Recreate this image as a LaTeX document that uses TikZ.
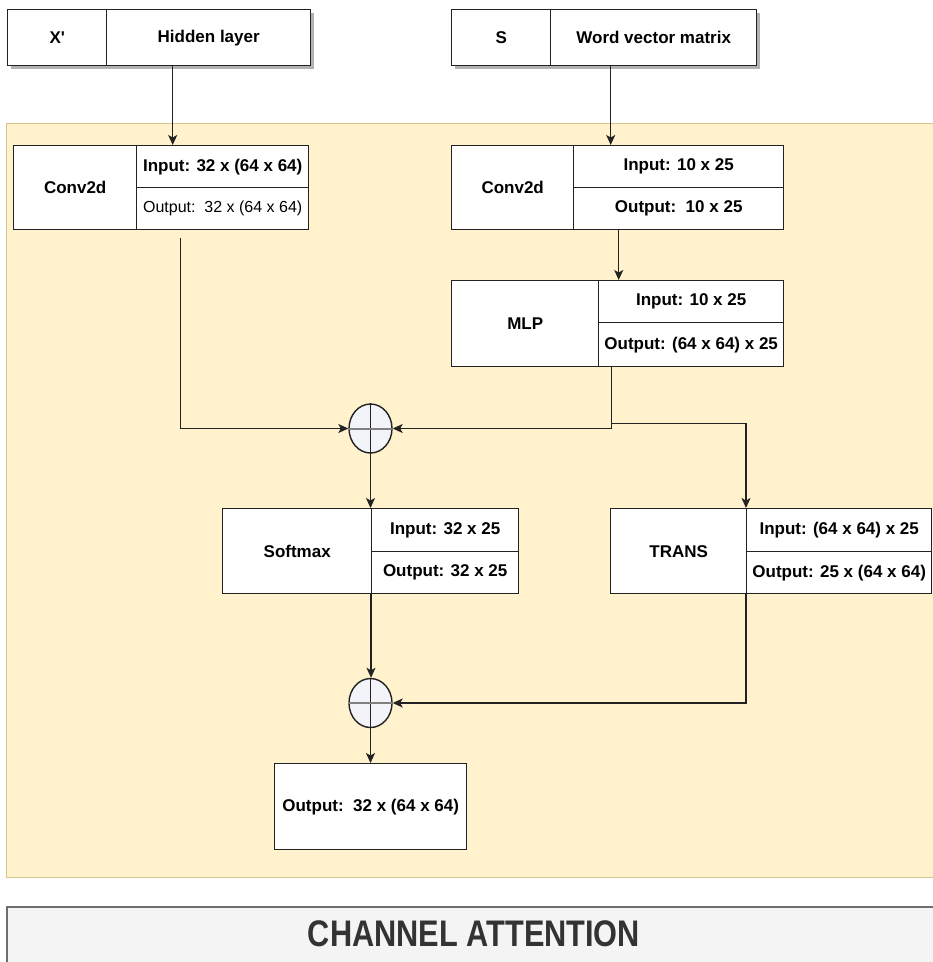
\documentclass[tikz,border=0pt]{standalone}
\usepackage{fontspec}
\setmainfont{Liberation Sans}
\usepackage{graphicx}
\usetikzlibrary{arrows.meta,shapes.geometric,shadows,calc}

\definecolor{panelfill}{HTML}{FFF2CC}
\definecolor{paneldraw}{HTML}{D6C48A}
\definecolor{bandfill}{HTML}{F4F4F4}
\definecolor{banddraw}{HTML}{6E6E6E}
\definecolor{ink}{HTML}{222222}
\definecolor{sumfill}{HTML}{F3F3FA}
\definecolor{titleink}{HTML}{333333}

\begin{document}
\begin{tikzpicture}[x=1pt,y=-1pt,
  cell/.style={draw=ink, line width=1.4pt, fill=white, inner sep=0pt,
    anchor=north west, text=black, font=\fontsize{17}{20}\selectfont\bfseries},
  thin cell/.style={cell, font=\fontsize{16}{19}\selectfont},
  topshadow/.style={drop shadow={shadow xshift=3pt, shadow yshift=-3pt,
    opacity=0.3, fill=black}},
  sum/.style={draw=ink, line width=1.4pt, fill=sumfill, ellipse, inner sep=0pt,
    minimum width=43pt, minimum height=49pt},
  arr/.style={draw=ink, line width=1.3pt,
    -{Stealth[length=10pt,width=9pt,inset=2.5pt]}}]

\useasboundingbox (0,0) rectangle (933,962);
\fill[white] (0,0) rectangle (933,962);

% background panel and caption band
\node[draw=paneldraw, fill=panelfill, line width=1.2pt, inner sep=0pt,
      anchor=north west, minimum width=940pt, minimum height=754pt] (panel) at (6,123) {};
\node[draw=banddraw, fill=bandfill, line width=1.5pt, inner sep=0pt,
      anchor=north west, minimum width=940pt, minimum height=70pt] (band) at (6,906) {};
\node[text=titleink, inner sep=0pt, font=\fontsize{37}{40}\selectfont\bfseries]
      (title) at (474,933.5) {\scalebox{0.83}[1]{CHANNEL ATTENTION}};

% inputs
\node[cell, topshadow, minimum width=99pt, minimum height=56pt] (xsym) at (7,9) {X\textquotesingle};
\node[cell, topshadow, minimum width=204pt, minimum height=56pt] (xh) at (106,9) {Hidden layer};
\node[cell, topshadow, minimum width=99pt, minimum height=56pt] (ssym) at (451,9) {S};
\node[cell, topshadow, minimum width=206pt, minimum height=56pt] (sw) at (550,9) {Word vector matrix};

% Conv2d on the hidden layer
\node[cell, minimum width=123pt, minimum height=84pt] (c1l) at (13,145) {Conv2d};
\node[cell, minimum width=172pt, minimum height=42pt] (c1in) at (136,145) {Input: 32 x (64 x 64)};
\node[thin cell, minimum width=172pt, minimum height=42pt] (c1out) at (136,187) {Output:\ \ 32 x (64 x 64)};

% Conv2d on the word vectors
\node[cell, minimum width=122pt, minimum height=84pt] (c2l) at (451,145) {Conv2d};
\node[cell, minimum width=210pt, minimum height=42pt] (c2in) at (573,145) {Input: 10 x 25};
\node[cell, minimum width=210pt, minimum height=42pt] (c2out) at (573,187) {Output:\ \ 10 x 25};

% MLP
\node[cell, minimum width=147pt, minimum height=86pt] (mlpl) at (451,280) {MLP};
\node[cell, minimum width=185pt, minimum height=42pt] (mlpin) at (598,280) {Input: 10 x 25};
\node[cell, minimum width=185pt, minimum height=44pt] (mlpout) at (598,322) {Output: (64 x 64) x 25};

% Softmax
\node[cell, minimum width=149pt, minimum height=85pt] (sml) at (222,508) {Softmax};
\node[cell, minimum width=147pt, minimum height=43pt] (smin) at (371,508) {Input: 32 x 25};
\node[cell, minimum width=147pt, minimum height=42pt] (smout) at (371,551) {Output: 32 x 25};

% TRANS
\node[cell, minimum width=136pt, minimum height=85pt] (trl) at (610,508) {TRANS};
\node[cell, minimum width=185pt, minimum height=43pt] (trin) at (746,508) {Input: (64 x 64) x 25};
\node[cell, minimum width=185pt, minimum height=42pt] (trout) at (746,551) {Output: 25 x (64 x 64)};

% result
\node[cell, minimum width=192pt, minimum height=86pt] (res) at (274,763) {Output:\ \ 32 x (64 x 64)};

% combining nodes
\node[sum] (ca) at (370.5,428.5) {};
\node[sum] (cb) at (370.5,703) {};
\draw[ink, line width=1.2pt] (ca.north) -- (ca.south);
\draw[black!50, line width=2pt] (ca.west) -- (ca.east);
\draw[ink, line width=1.2pt] (cb.north) -- (cb.south);
\draw[black!50, line width=2pt] (cb.west) -- (cb.east);

% connectors
\draw[arr] ([xshift=-36pt]xh.south) -- ([xshift=-36pt]xh.south |- c1in.north);
\draw[arr] ([xshift=-43pt]sw.south) -- ([xshift=-43pt]sw.south |- c2in.north);
\draw[arr] ($(c1out.south)+(-42,8)$) |- (ca.west);
\draw[arr] ([xshift=-60pt]c2out.south) -- ([xshift=-60pt]c2out.south |- mlpin.north);
\draw[arr] ([xshift=-79.5pt]mlpout.south) |- (ca.east);
\coordinate (br) at ($(mlpout.south)+(-79.5,56)$);
\draw[arr] (br) -| (trin.north west);
\draw[arr] (ca.south) -- (ca.south |- smin.north);
\draw[arr] (smout.south west) -- (smout.south west |- cb.north);
\draw[arr] (trout.south west) |- (cb.east);
\draw[arr] (cb.south) -- (cb.south |- res.north);

\end{tikzpicture}
\end{document}
